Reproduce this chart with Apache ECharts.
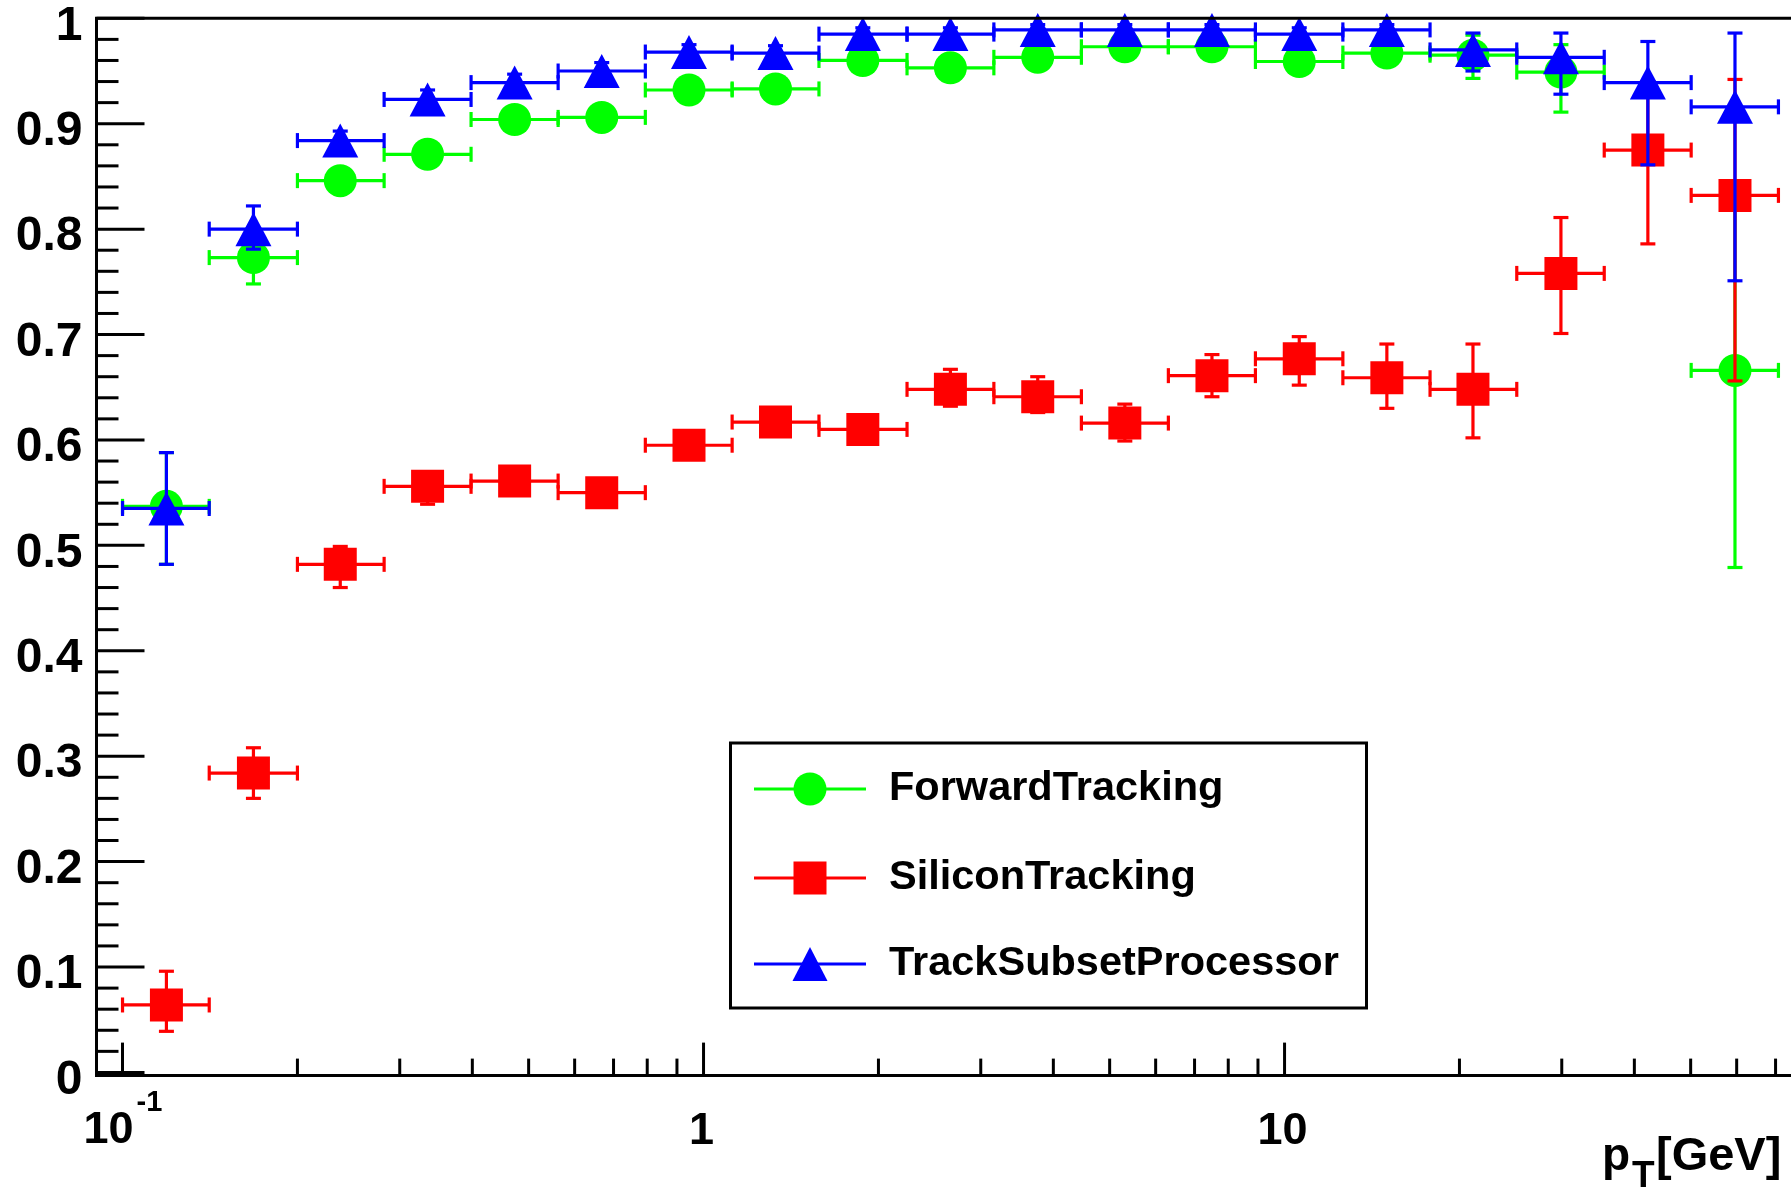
<!DOCTYPE html>
<html>
<head>
<meta charset="utf-8">
<script src="https://cdn.jsdelivr.net/npm/echarts@6/dist/echarts.min.js"></script>
<style>
  html, body { margin: 0; padding: 0; background: #ffffff; }
  #chart { width: 1791px; height: 1190px; }
</style>
</head>
<body>
<div id="chart"></div>
<script>
// pT bins (GeV): lower edge, upper edge and marker position
const binLow    = [0.1, 0.141, 0.2, 0.282, 0.398, 0.562, 0.794, 1.12, 1.58, 2.24, 3.16, 4.47, 6.31, 8.91, 12.6, 17.8, 25.1, 35.5, 50.1];
const binHigh   = [0.141, 0.2, 0.282, 0.398, 0.562, 0.794, 1.12, 1.58, 2.24, 3.16, 4.47, 6.31, 8.91, 12.6, 17.8, 25.1, 35.5, 50.1, 70.8];
const binCenter = [0.119, 0.168, 0.237, 0.335, 0.473, 0.668, 0.944, 1.33, 1.88, 2.66, 3.76, 5.31, 7.50, 10.6, 15.0, 21.1, 29.9, 42.2, 59.6];

// ForwardTracking efficiency with lower / upper error limits
const ftEff  = [0.537, 0.773, 0.846, 0.871, 0.904, 0.906, 0.932, 0.933, 0.960, 0.953, 0.963, 0.973, 0.973, 0.959, 0.967, 0.965, 0.949, null, 0.666];
const ftLow  = [0.482, 0.748, 0.837, 0.862, 0.896, 0.898, 0.925, 0.926, 0.954, 0.946, 0.957, 0.968, 0.968, 0.952, 0.961, 0.943, 0.911, null, 0.479];
const ftHigh = [0.588, 0.795, 0.855, 0.880, 0.912, 0.914, 0.939, 0.940, 0.966, 0.960, 0.969, 0.978, 0.978, 0.966, 0.973, 0.984, 0.975, null, 0.820];

// SiliconTracking efficiency
const siEff  = [0.064, 0.284, 0.482, 0.556, 0.561, 0.550, 0.595, 0.617, 0.610, 0.648, 0.641, 0.616, 0.661, 0.677, 0.659, 0.648, 0.758, 0.875, 0.832];
const siLow  = [0.039, 0.260, 0.460, 0.539, 0.548, 0.537, 0.583, 0.605, 0.598, 0.632, 0.626, 0.599, 0.641, 0.652, 0.630, 0.602, 0.701, 0.786, 0.656];
const siHigh = [0.096, 0.308, 0.499, 0.570, 0.574, 0.563, 0.607, 0.629, 0.622, 0.667, 0.660, 0.634, 0.681, 0.698, 0.691, 0.691, 0.811, 0.940, 0.942];

// TrackSubsetProcessor efficiency
const tspEff  = [0.535, 0.800, 0.884, 0.923, 0.939, 0.950, 0.968, 0.967, 0.985, 0.985, 0.989, 0.989, 0.989, 0.985, 0.989, 0.970, 0.963, 0.939, 0.916];
const tspLow  = [0.482, 0.781, 0.875, 0.914, 0.931, 0.942, 0.961, 0.960, 0.979, 0.979, 0.984, 0.984, 0.984, 0.979, 0.984, 0.950, 0.928, 0.861, 0.751];
const tspHigh = [0.588, 0.822, 0.893, 0.932, 0.947, 0.958, 0.975, 0.974, 0.991, 0.991, 0.994, 0.994, 0.994, 0.991, 0.994, 0.986, 0.986, 0.978, 0.986];

// axis ranges and tick marks
const X_MIN = 0.0902, X_MAX = 73.1;
const Y_MIN = -0.003, Y_MAX = 1.0;
const xMajorTicks = [0.1, 1, 10];
const xMinorTicks = [0.2, 0.3, 0.4, 0.5, 0.6, 0.7, 0.8, 0.9, 2, 3, 4, 5, 6, 7, 8, 9, 20, 30, 40, 50, 60, 70];
const yMajorTicks = [0, 0.1, 0.2, 0.3, 0.4, 0.5, 0.6, 0.7, 0.8, 0.9, 1];
const yTickLabels = ['0', '0.1', '0.2', '0.3', '0.4', '0.5', '0.6', '0.7', '0.8', '0.9', '1'];

const FONT = '"Liberation Sans", Arial, Helvetica, sans-serif';
const GREEN = '#00ff00', RED = '#ff0000', BLUE = '#0000ff';

const yMinorTicks = [];
for (let i = 1; i < 50; i++) {
  if (i % 5 !== 0) yMinorTicks.push(+(i * 0.02).toFixed(2));
}

function points(eff, low, high) {
  const out = [];
  for (let i = 0; i < binCenter.length; i++) {
    if (eff[i] == null) continue;
    out.push([binCenter[i], eff[i], binLow[i], binHigh[i], low[i], high[i]]);
  }
  return out;
}

// ROOT-style error bars: horizontal = bin width, vertical = efficiency error, with end caps
function errorBars(color) {
  return function (params, api) {
    const x = api.value(0), y = api.value(1);
    const c = api.coord([x, y]);
    const l = api.coord([api.value(2), y]);
    const r = api.coord([api.value(3), y]);
    const lo = api.coord([x, api.value(4)]);
    const hi = api.coord([x, api.value(5)]);
    const cap = 7.5;
    const style = { stroke: color, lineWidth: 3.2, fill: null };
    return {
      type: 'group',
      children: [
        { type: 'line', shape: { x1: l[0], y1: c[1], x2: r[0], y2: c[1] }, style: style },
        { type: 'line', shape: { x1: l[0], y1: c[1] - cap, x2: l[0], y2: c[1] + cap }, style: style },
        { type: 'line', shape: { x1: r[0], y1: c[1] - cap, x2: r[0], y2: c[1] + cap }, style: style },
        { type: 'line', shape: { x1: c[0], y1: lo[1], x2: c[0], y2: hi[1] }, style: style },
        { type: 'line', shape: { x1: c[0] - cap, y1: lo[1], x2: c[0] + cap, y2: lo[1] }, style: style },
        { type: 'line', shape: { x1: c[0] - cap, y1: hi[1], x2: c[0] + cap, y2: hi[1] }, style: style }
      ]
    };
  };
}

function errorSeries(name, color, data, z) {
  return {
    name: name, type: 'custom', data: data, z: z, clip: false, silent: true,
    encode: { x: [0, 2, 3], y: [1, 4, 5] },
    renderItem: errorBars(color)
  };
}

function markerSeries(name, color, data, symbol, size, z) {
  return {
    name: name, type: 'scatter', data: data.map(d => [d[0], d[1]]), z: z,
    symbol: symbol, symbolSize: size, clip: false, silent: true,
    itemStyle: { color: color, opacity: 1 }
  };
}

const ftData = points(ftEff, ftLow, ftHigh);
const siData = points(siEff, siLow, siHigh);
const tspData = points(tspEff, tspLow, tspHigh);

// tick marks and labels on the bottom axis
const xTickSeries = {
  type: 'custom', z: 20, clip: false, silent: true,
  encode: { x: 0, y: 1 },
  data: xMajorTicks.map(v => [v, Y_MIN, 1]).concat(xMinorTicks.map(v => [v, Y_MIN, 0])),
  renderItem: function (params, api) {
    const v = api.value(0);
    const major = api.value(2) === 1;
    const p = api.coord([v, Y_MIN]);
    const children = [{
      type: 'line',
      shape: { x1: p[0], y1: p[1], x2: p[0], y2: p[1] - (major ? 33 : 17) },
      style: { stroke: '#000', lineWidth: 3 }
    }];
    if (major) {
      if (v < 1) {
        children.push({ type: 'text', x: p[0] + 11, y: p[1] + 55,
          style: { text: '10', font: 'bold 45px ' + FONT, fill: '#000', align: 'right', verticalAlign: 'middle' } });
        children.push({ type: 'text', x: p[0] + 14, y: p[1] + 27,
          style: { text: '-1', font: 'bold 29px ' + FONT, fill: '#000', align: 'left', verticalAlign: 'middle' } });
      } else {
        children.push({ type: 'text', x: p[0] - 2, y: p[1] + 56,
          style: { text: String(v), font: 'bold 45px ' + FONT, fill: '#000', align: 'center', verticalAlign: 'middle' } });
      }
    }
    return { type: 'group', children: children };
  }
};

// tick marks and labels on the left axis
const yTickSeries = {
  type: 'custom', z: 20, clip: false, silent: true,
  encode: { x: 0, y: 1 },
  data: yMajorTicks.map((v, i) => [X_MIN, v, 1, i]).concat(yMinorTicks.map(v => [X_MIN, v, 0, -1])),
  renderItem: function (params, api) {
    const v = api.value(1);
    const major = api.value(2) === 1;
    const p = api.coord([X_MIN, v]);
    const children = [{
      type: 'line',
      shape: { x1: p[0], y1: p[1], x2: p[0] + (major ? 48 : 22), y2: p[1] },
      style: { stroke: '#000', lineWidth: 3 }
    }];
    if (major) {
      children.push({ type: 'text', x: p[0] - 14, y: p[1] + 8,
        style: { text: yTickLabels[api.value(3)], font: 'bold 48px ' + FONT, fill: '#000', align: 'right', verticalAlign: 'middle' } });
    }
    return { type: 'group', children: children };
  }
};

const chart = echarts.init(document.getElementById('chart'), null, { renderer: 'canvas' });

// legend entries: ROOT-style line through the marker, then the label
const LEG_X0 = 754, LEG_X1 = 866, LEG_MX = 810, LEG_TX = 889;
const legendText = (txt, y) => ({
  type: 'text', x: LEG_TX, y: y, z: 31,
  style: { text: txt, font: 'bold 41.5px ' + FONT, fill: '#000', align: 'left', verticalAlign: 'middle' }
});
const legendLine = (y, color) => ({
  type: 'line', z: 31, shape: { x1: LEG_X0, y1: y, x2: LEG_X1, y2: y }, style: { stroke: color, lineWidth: 3 }
});

chart.setOption({
  animation: false,
  backgroundColor: '#ffffff',
  grid: { left: 96.5, top: 18.3, right: 4.5, bottom: 114.4, show: false },
  xAxis: {
    type: 'log', logBase: 10, min: X_MIN, max: X_MAX,
    axisLine: { show: false }, axisTick: { show: false }, axisLabel: { show: false },
    splitLine: { show: false }, minorTick: { show: false }
  },
  yAxis: {
    type: 'value', min: Y_MIN, max: Y_MAX,
    axisLine: { show: false }, axisTick: { show: false }, axisLabel: { show: false },
    splitLine: { show: false }
  },
  series: [
    errorSeries('ForwardTracking', GREEN, ftData, 2),
    markerSeries('ForwardTracking', GREEN, ftData, 'circle', 33, 3),
    errorSeries('SiliconTracking', RED, siData, 4),
    markerSeries('SiliconTracking', RED, siData, 'rect', 33, 5),
    errorSeries('TrackSubsetProcessor', BLUE, tspData, 6),
    markerSeries('TrackSubsetProcessor', BLUE, tspData, 'triangle', [36, 34], 7),
    xTickSeries,
    yTickSeries
  ],
  graphic: [
    // frame
    { type: 'rect', z: 25, silent: true,
      shape: { x: 96.5, y: 18.3, width: 1790, height: 1057.3 },
      style: { fill: null, stroke: '#000', lineWidth: 3 } },
    // axis title
    { type: 'text', x: 1602, y: 1157, z: 30,
      style: { text: 'p', font: 'bold 46px ' + FONT, fill: '#000', align: 'left', verticalAlign: 'middle' } },
    { type: 'text', x: 1632, y: 1177, z: 30,
      style: { text: 'T', font: 'bold 37px ' + FONT, fill: '#000', align: 'left', verticalAlign: 'middle' } },
    { type: 'text', x: 1656, y: 1157, z: 30,
      style: { text: '[GeV]', font: 'bold 47px ' + FONT, fill: '#000', align: 'left', verticalAlign: 'middle' } },
    // legend
    { type: 'rect', z: 30, shape: { x: 730.5, y: 743, width: 636, height: 265 },
      style: { fill: '#ffffff', stroke: '#000', lineWidth: 3 } },
    legendLine(789, GREEN),
    { type: 'circle', z: 32, shape: { cx: LEG_MX, cy: 789, r: 16.5 }, style: { fill: GREEN } },
    legendText('ForwardTracking', 789),
    legendLine(878, RED),
    { type: 'rect', z: 32, shape: { x: LEG_MX - 16.5, y: 861.5, width: 33, height: 33 }, style: { fill: RED } },
    legendText('SiliconTracking', 878),
    legendLine(964, BLUE),
    { type: 'polygon', z: 32, shape: { points: [[LEG_MX, 947], [LEG_MX + 17.5, 981], [LEG_MX - 17.5, 981]] }, style: { fill: BLUE } },
    legendText('TrackSubsetProcessor', 964)
  ]
});
</script>
</body>
</html>
